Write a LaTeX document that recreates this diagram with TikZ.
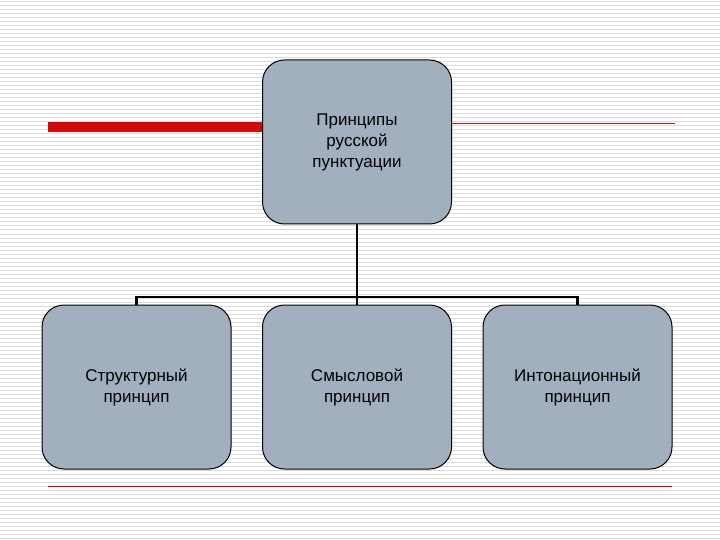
\documentclass[tikz,border=0pt]{standalone}
\usepackage{fontspec}
\setmainfont{Liberation Sans}
\begin{document}
\begin{tikzpicture}[x=1pt,y=-1pt,
  box/.style={draw=black,line width=1pt,fill=boxfill,rounded corners=22pt,minimum width=189pt,minimum height=164pt,align=center,font=\fontsize{17pt}{21pt}\selectfont,inner sep=0pt},
  conn/.style={line width=2.5pt}]
\definecolor{boxfill}{HTML}{A2AFBE}
\definecolor{stripe}{HTML}{DCDCDC}
\definecolor{redc}{HTML}{D20A0A}
\fill[white] (0,0) rectangle (720,540);
\useasboundingbox (0,0) rectangle (720,540);
\foreach \y in {2,6,...,538} \draw[stripe,line width=1pt] (0,\y) -- (720,\y);
\fill[redc] (48,122) rectangle (265,132);
\draw[redc,line width=0.8pt] (452,123) -- (675,123);
\draw[redc,line width=0.8pt] (48,486) -- (672,486);
\node[box] (top) at (357,142) {Принципы\\русской\\пунктуации};
\node[box] (l) at (136.5,387) {Структурный\\принцип};
\node[box] (m) at (357,387) {Смысловой\\принцип};
\node[box] (r) at (577.5,387) {Интонационный\\принцип};
\coordinate (j) at (357,297);
\draw[conn] (top.south) -- (j);
\draw[conn] (l.north) |- (j) -| (r.north);
\draw[conn] (j) -- (m.north);
\end{tikzpicture}
\end{document}
